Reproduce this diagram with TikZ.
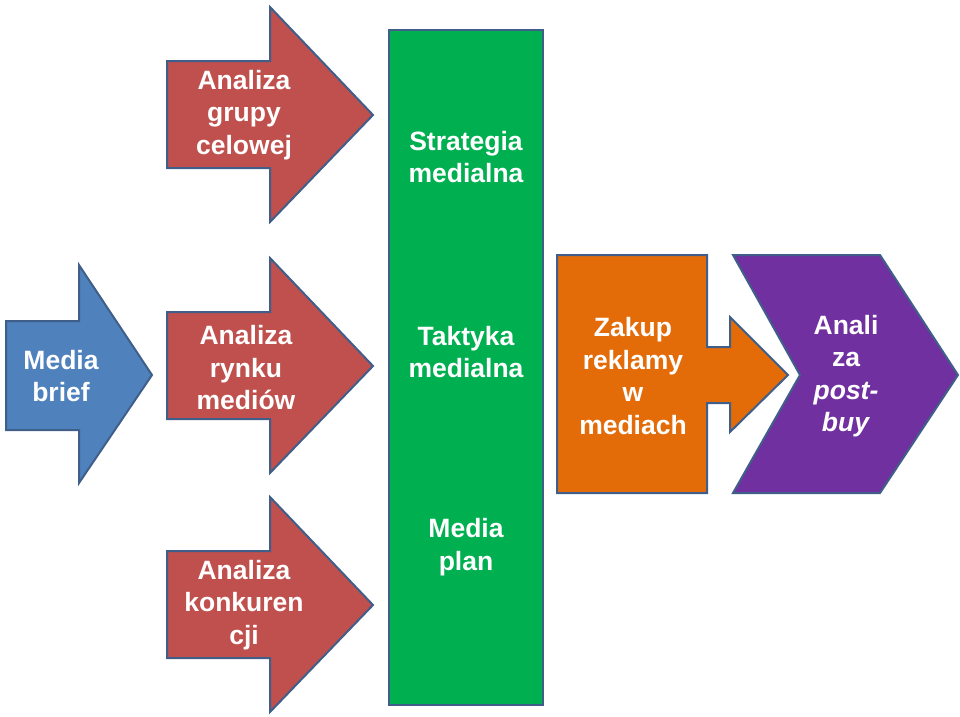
\documentclass[tikz,border=0pt]{standalone}
\usepackage{fontspec}
\setmainfont{Liberation Sans}
\definecolor{cblue}{HTML}{4F81BD}
\definecolor{cred}{HTML}{C0504D}
\definecolor{cgreen}{HTML}{00B050}
\definecolor{corange}{HTML}{E36C09}
\definecolor{cpurple}{HTML}{7030A0}
\definecolor{cline}{HTML}{3F5F8A}
\tikzset{
  shp/.style={draw=cline, line width=2pt, line join=miter},
  lbl/.style={text=white, align=center, font=\bfseries\fontsize{26.5}{32.5}\selectfont, inner sep=0pt},
}
\begin{document}
\begin{tikzpicture}[x=1pt,y=-1pt]
\useasboundingbox (0,0) rectangle (960,716);
% blue arrow
\path[shp, fill=cblue] (6,321) -- (79,321) -- (79,265) -- (152,375) -- (79,483) -- (79,430) -- (6,430) -- cycle;
% red arrows
\foreach \c in {115,366,605}{
  \path[shp, fill=cred] (167,\c-54) -- (270,\c-54) -- (270,\c-108) -- (373,\c) -- (270,\c+107) -- (270,\c+53) -- (167,\c+53) -- cycle;
}
% green rectangle
\path[shp, fill=cgreen] (389,30) rectangle (543,705);
% orange
\path[shp, fill=corange] (557,255) -- (707,255) -- (707,347) -- (730,347) -- (730,317) -- (788,375) -- (730,432) -- (730,403) -- (707,403) -- (707,493) -- (557,493) -- cycle;
% purple chevron
\path[shp, fill=cpurple] (733,255) -- (880,255) -- (958,375) -- (880,493) -- (733,493) -- (800,375) -- cycle;
% labels
\node[lbl] (brief) at (61,376) {Media\\brief};
\node[lbl] (grupy) at (244,115) {Analiza\\grupy\\celowej};
\node[lbl] (rynek) at (246,368) {Analiza\\rynku\\mediów};
\node[lbl] (konk) at (244,605) {Analiza\\konkuren\\cji};
\node[lbl] (strat) at (466,157) {Strategia\\medialna};
\node[lbl] (takt) at (466,352) {Taktyka\\medialna};
\node[lbl] (plan) at (466,547) {Media\\plan};
\node[lbl] (zakup) at (633,376) {Zakup\\reklamy\\w\\mediach};
\node[lbl] (post) at (846,376) {Anali\\za\\\textit{post-}\\\textit{buy}};
\end{tikzpicture}
\end{document}
